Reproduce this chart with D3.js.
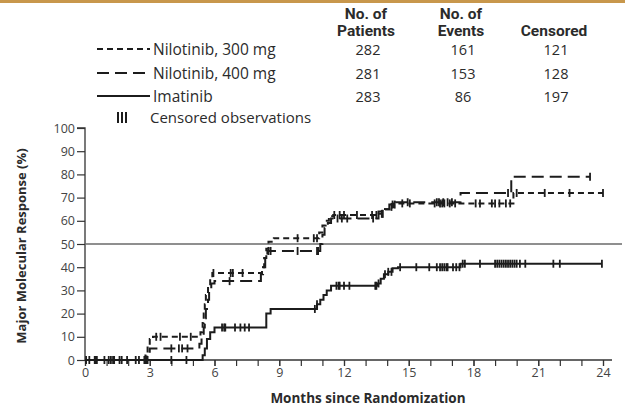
<!DOCTYPE html>
<html>
<head>
<meta charset="utf-8">
<script src="https://cdn.jsdelivr.net/npm/d3@7/dist/d3.min.js"></script>
<style>
  html, body { margin: 0; padding: 0; background: #fff; }
  svg { display: block; font-family: "Open Sans", "DejaVu Sans", sans-serif; }
</style>
</head>
<body>
<svg id="chart" width="625" height="412"></svg>
<script>
// Kaplan-Meier style step data: each time is where the curve jumps to the given percentage
const nilo300Times = [0, 2.8, 2.9, 3.0, 3.15, 5.35, 5.45, 5.5, 5.55, 5.6, 5.7, 5.8, 5.9, 8.2, 8.3, 8.4, 8.5, 8.75, 10.85, 11.0, 11.15, 11.3, 11.5, 13.6, 13.9, 14.1, 14.3, 19.85];
const nilo300Pct   = [0, 3, 6, 9, 10, 12, 16, 20, 24, 28, 32, 35, 37.5, 40, 44, 48, 51, 52.5, 55, 58, 60, 62, 62.5, 64, 65, 66, 67.5, 72];
const nilo300End = 24.0;
const nilo300Censor = [3.3, 3.5, 4.4, 4.9, 5.95, 6.75, 6.85, 7.3, 9.85, 10.6, 10.75, 11.55, 11.8, 12.0, 12.6, 13.3, 13.5, 14.2, 14.7, 15.05, 16.2, 16.45, 16.55, 16.65, 16.9, 17.15, 18.1, 18.3, 18.85, 19.0, 19.2, 19.5, 19.7, 20.0, 21.3, 22.45, 24.0];

const nilo400Times = [0, 2.85, 3.0, 5.3, 5.4, 5.5, 5.55, 5.6, 5.7, 5.75, 5.85, 6.0, 8.15, 8.25, 8.35, 8.45, 10.9, 11.0, 11.1, 11.25, 11.4, 13.6, 13.9, 14.1, 14.4, 17.4, 19.75];
const nilo400Pct   = [0, 3, 5, 7, 10, 14, 18, 22, 26, 30, 33, 34, 37, 40, 44, 47, 50, 54, 57, 59, 61, 63, 65, 67, 68, 72, 79];
const nilo400End = 23.4;
const nilo400Censor = [4.0, 4.35, 4.5, 4.75, 6.7, 8.5, 8.6, 9.85, 10.75, 10.8, 11.7, 11.9, 12.15, 13.35, 13.75, 13.8, 14.25, 14.35, 14.95, 16.3, 16.4, 16.6, 16.8, 17.0, 19.6, 23.4];

const imaTimes = [0, 5.45, 5.55, 5.65, 5.8, 6.0, 8.4, 8.6, 10.75, 10.9, 11.05, 11.2, 11.4, 13.55, 13.7, 13.85, 14.05, 14.25, 14.5, 17.4];
const imaPct   = [0, 2, 5, 9, 12, 14, 20, 22, 24, 26, 28, 30, 32, 33, 35, 37, 38, 39.5, 40, 41.5];
const imaEnd = 23.95;
const imaCensor = [0.05, 0.2, 0.45, 0.5, 0.55, 0.9, 1.1, 1.2, 1.3, 1.35, 1.6, 1.7, 1.95, 2.35, 2.5, 2.75, 2.8, 2.85, 2.9, 4.0, 4.7, 6.35, 6.45, 6.5, 6.95, 7.2, 7.4, 7.6, 10.65, 10.75, 11.65, 11.75, 11.8, 12.0, 12.25, 13.45, 13.5, 13.6, 13.9, 14.05, 14.2, 14.6, 15.35, 15.95, 16.3, 16.45, 16.55, 16.65, 16.75, 16.8, 17.05, 17.2, 17.35, 17.5, 17.6, 18.3, 19.0, 19.1, 19.2, 19.3, 19.4, 19.5, 19.6, 19.7, 19.8, 19.9, 20.0, 20.15, 20.4, 21.7, 22.0, 23.95];

// Axis ticks
const monthTicks = [0, 3, 6, 9, 12, 15, 18, 21, 24];
const monthMinor = d3.range(0, 25, 1);
const pctTicks = [0, 10, 20, 30, 40, 50, 60, 70, 80, 90, 100];
const referencePct = 50;

// Legend table
const groupNames = ["Nilotinib, 300 mg", "Nilotinib, 400 mg", "Imatinib"];
const groupDash = ["6,4", "12,6", null];
const patients = [282, 281, 283];
const events = [161, 153, 86];
const censored = [121, 128, 197];
const columnHeads = [["No. of", "Patients"], ["No. of", "Events"], ["", "Censored"]];
const censorLabel = "Censored observations";
const xTitle = "Months since Randomization";
const yTitle = "Major Molecular Response (%)";

const svg = d3.select("#chart");
const ink = "#1c1c1c";
const textCol = "#2b2b2b";

// Top accent strip
svg.append("rect").attr("x", 0).attr("y", 0).attr("width", 625).attr("height", 3).attr("fill", "#c8974c");

const x = d3.scaleLinear().domain([0, 24]).range([85, 603]);
const y = d3.scaleLinear().domain([0, 100]).range([360, 128]);

// Axes
const yAxis = d3.axisLeft(y).tickValues(pctTicks).tickSize(8).tickPadding(2);
const gy = svg.append("g").attr("transform", "translate(85,0)").call(yAxis);
gy.select(".domain").attr("stroke", "#333").attr("stroke-width", 1.3).attr("d", "M-8,128H0V360");
gy.selectAll(".tick line").attr("stroke", "#333").attr("stroke-width", 1.2);
gy.selectAll(".tick text").attr("font-size", 12.5).attr("fill", "#444").attr("font-family", "Open Sans, sans-serif");

const xAxisMinor = d3.axisBottom(x).tickValues(monthMinor).tickSize(6).tickFormat("");
const gxm = svg.append("g").attr("transform", "translate(0,360)").call(xAxisMinor);
gxm.select(".domain").attr("stroke", "#333").attr("stroke-width", 1.3).attr("d", "M85,0H612");
gxm.selectAll(".tick line").attr("stroke", "#333").attr("stroke-width", 1.2);

const xAxis = d3.axisBottom(x).tickValues(monthTicks).tickSize(6).tickPadding(2);
const gx = svg.append("g").attr("transform", "translate(0,360)").call(xAxis);
gx.select(".domain").remove();
gx.selectAll(".tick line").attr("stroke", "#333").attr("stroke-width", 1.2);
gx.selectAll(".tick text").attr("font-size", 12.5).attr("fill", "#444").attr("font-family", "Open Sans, sans-serif");

// 50% reference line
svg.append("line")
  .attr("x1", x(0)).attr("x2", 622)
  .attr("y1", y(referencePct)).attr("y2", y(referencePct))
  .attr("stroke", "#6a6a6a").attr("stroke-width", 1.5);

// Axis titles
svg.append("text").attr("x", 368).attr("y", 403).attr("text-anchor", "middle")
  .attr("font-size", 13.5).attr("font-weight", "bold").attr("fill", textCol).text(xTitle);
svg.append("text").attr("transform", "translate(26,246) rotate(-90)").attr("text-anchor", "middle")
  .attr("font-size", 13).attr("font-weight", "bold").attr("fill", textCol).text(yTitle);

// Step curves
function stepPoints(times, pct, end) {
  const pts = times.map((t, i) => [t, pct[i]]);
  pts.push([end, pct[pct.length - 1]]);
  return pts;
}
function valueAt(times, pct, t) {
  const i = d3.bisectRight(times, t) - 1;
  return pct[Math.max(0, i)];
}
const line = d3.line().x(d => x(d[0])).y(d => y(d[1])).curve(d3.curveStepAfter);

const series = [
  { times: nilo300Times, pct: nilo300Pct, end: nilo300End, censor: nilo300Censor, dash: groupDash[0] },
  { times: nilo400Times, pct: nilo400Pct, end: nilo400End, censor: nilo400Censor, dash: groupDash[1] },
  { times: imaTimes, pct: imaPct, end: imaEnd, censor: imaCensor, dash: groupDash[2] }
];

series.forEach(s => {
  svg.append("path")
    .attr("d", line(stepPoints(s.times, s.pct, s.end)))
    .attr("fill", "none").attr("stroke", ink).attr("stroke-width", 2)
    .attr("stroke-dasharray", s.dash);
  svg.append("g").selectAll("line").data(s.censor).join("line")
    .attr("x1", d => x(d)).attr("x2", d => x(d))
    .attr("y1", d => y(valueAt(s.times, s.pct, d)) - 4)
    .attr("y2", d => y(valueAt(s.times, s.pct, d)) + 4)
    .attr("stroke", ink).attr("stroke-width", 1.8);
});

// Legend table
const colX = [366, 461, 554];
const headFont = "Roboto, 'Open Sans', sans-serif";
columnHeads.forEach((h, i) => {
  if (h[0]) {
    svg.append("text").attr("x", colX[i]).attr("y", 18.5).attr("text-anchor", "middle")
      .attr("font-family", headFont).attr("font-size", 15.5).attr("font-weight", "bold")
      .attr("fill", textCol).text(h[0]);
  }
  svg.append("text").attr("x", colX[i]).attr("y", 36).attr("text-anchor", "middle")
    .attr("font-family", headFont).attr("font-size", 15.5).attr("font-weight", "bold")
    .attr("fill", textCol).text(h[1]);
});
const rowY = [49, 73, 96];
groupNames.forEach((name, i) => {
  svg.append("line").attr("x1", 97).attr("x2", 150).attr("y1", rowY[i]).attr("y2", rowY[i])
    .attr("stroke", ink).attr("stroke-width", 1.8).attr("stroke-dasharray", groupDash[i]);
  svg.append("text").attr("x", 153).attr("y", rowY[i] + 5.5).attr("font-size", 15.5).attr("fill", textCol).text(name);
  [patients[i], events[i], censored[i]].forEach((v, j) => {
    svg.append("text").attr("x", colX[j] + 2).attr("y", rowY[i] + 6).attr("text-anchor", "middle")
      .attr("font-size", 14.5).attr("fill", textCol).text(v);
  });
});
// Censor symbol in legend
[118, 122, 126].forEach(cx => {
  svg.append("line").attr("x1", cx).attr("x2", cx).attr("y1", 112).attr("y2", 123)
    .attr("stroke", ink).attr("stroke-width", 2);
});
svg.append("text").attr("x", 150).attr("y", 123).attr("font-size", 15).attr("fill", textCol).text(censorLabel);
</script>
</body>
</html>
